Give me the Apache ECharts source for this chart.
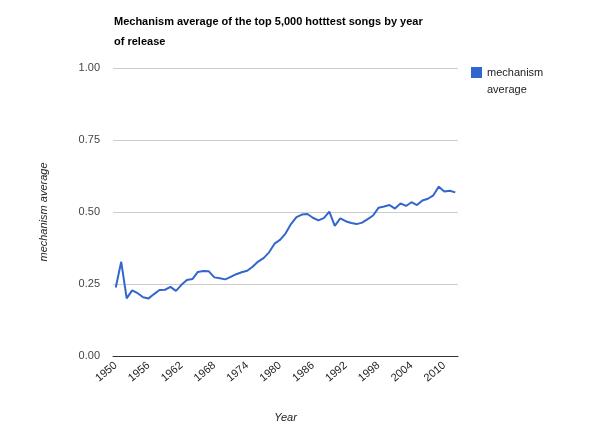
<!DOCTYPE html>
<html>
<head>
<meta charset="utf-8">
<script src="https://cdn.jsdelivr.net/npm/echarts@6/dist/echarts.min.js"></script>
<style>html,body{margin:0;padding:0;background:#fff}#c{width:600px;height:440px}</style>
</head>
<body>
<div id="c"></div>
<script>
var years = [];
for (var y = 1950; y <= 2012; y++) years.push(String(y));
var mechanismAverage = [
  0.238, 0.327, 0.200, 0.228, 0.218, 0.204, 0.200, 0.215, 0.229, 0.230,
  0.240, 0.226, 0.247, 0.264, 0.267, 0.292, 0.295, 0.294, 0.273, 0.270,
  0.266, 0.275, 0.284, 0.291, 0.296, 0.310, 0.328, 0.340, 0.360, 0.390,
  0.403, 0.425, 0.458, 0.482, 0.491, 0.493, 0.480, 0.471, 0.479, 0.501,
  0.452, 0.478, 0.468, 0.462, 0.458, 0.463, 0.475, 0.488, 0.515, 0.519,
  0.524, 0.512, 0.530, 0.521, 0.534, 0.524, 0.540, 0.546, 0.558, 0.588,
  0.571, 0.574, 0.568
];
var seriesName = 'mechanism average';
var chart = echarts.init(document.getElementById('c'));
chart.setOption({
  animation: false,
  title: {
    text: 'Mechanism average of the top 5,000 hotttest songs by year\nof release',
    left: 109, top: 7,
    textStyle: {fontFamily: 'Liberation Sans, Arial', fontWeight: 'bold', fontSize: 11, color: '#000', lineHeight: 20}
  },
  legend: {
    orient: 'vertical', left: 471, top: 67, padding: 0,
    itemWidth: 11, itemHeight: 11, icon: 'rect',
    data: [{name: seriesName}],
    formatter: function () { return 'mechanism'; },
    textStyle: {fontFamily: 'Liberation Sans, Arial', fontSize: 11, color: '#222'}
  },
  graphic: [{
    type: 'text', left: 487, top: 84,
    style: {text: 'average', font: '11px "Liberation Sans", Arial', fill: '#222'}
  }],
  grid: {left: 113, right: 142, top: 68, bottom: 84, containLabel: false},
  xAxis: {
    type: 'category', data: years, boundaryGap: true,
    name: 'Year', nameLocation: 'middle', nameGap: 56,
    nameTextStyle: {fontFamily: 'Liberation Sans, Arial', fontStyle: 'italic', fontSize: 11, color: '#222'},
    axisLine: {show: true, lineStyle: {color: '#333', width: 1}},
    axisTick: {show: false},
    axisLabel: {interval: 5, rotate: 40, fontFamily: 'Liberation Sans, Arial', fontSize: 11, color: '#222', margin: 8}
  },
  yAxis: {
    type: 'value', min: 0, max: 1, interval: 0.25,
    name: 'mechanism average', nameLocation: 'middle', nameGap: 64,
    nameTextStyle: {fontFamily: 'Liberation Sans, Arial', fontStyle: 'italic', fontSize: 11, color: '#222'},
    axisLine: {show: false}, axisTick: {show: false},
    splitLine: {lineStyle: {color: '#cccccc', width: 1}},
    axisLabel: {fontFamily: 'Liberation Sans, Arial', fontSize: 11, color: '#444', margin: 13,
      formatter: function (v) { return v.toFixed(2); }}
  },
  series: [{
    name: seriesName, type: 'line', data: mechanismAverage,
    symbol: 'none', color: '#3366cc',
    lineStyle: {width: 2, color: '#3366cc'}
  }]
});
</script>
</body>
</html>
